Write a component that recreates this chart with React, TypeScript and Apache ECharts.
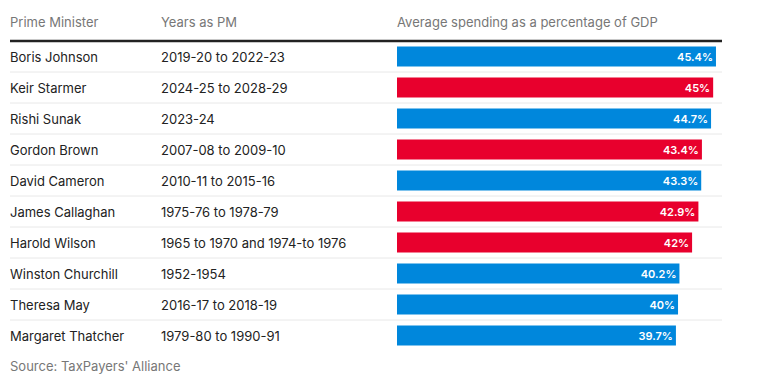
import React, { useEffect, useRef } from "react";
import * as echarts from "echarts";

const ministers = [
  "Boris Johnson",
  "Keir Starmer",
  "Rishi Sunak",
  "Gordon Brown",
  "David Cameron",
  "James Callaghan",
  "Harold Wilson",
  "Winston Churchill",
  "Theresa May",
  "Margaret Thatcher",
];
const years = [
  "2019-20 to 2022-23",
  "2024-25 to 2028-29",
  "2023-24",
  "2007-08 to 2009-10",
  "2010-11 to 2015-16",
  "1975-76 to 1978-79",
  "1965 to 1970 and 1974-to 1976",
  "1952-1954",
  "2016-17 to 2018-19",
  "1979-80 to 1990-91",
];
const spending = [45.4, 45, 44.7, 43.4, 43.3, 42.9, 42, 40.2, 40, 39.7];
const party = ["Con", "Lab", "Con", "Lab", "Con", "Lab", "Lab", "Con", "Con", "Con"];

const partyColors: Record<string, string> = { Con: "#0087DC", Lab: "#E8002D" };

const W = 762;
const H = 382;
const TOP = 41;
const ROW_H = 31;
const GRID_LEFT = 397;
const GRID_RIGHT_X = 723;
const FONT = "Inter, 'Noto Sans', sans-serif";

export default function App() {
  const ref = useRef<HTMLDivElement>(null);
  useEffect(() => {
    if (!ref.current) return;
    const chart = echarts.init(ref.current, undefined, { renderer: "svg" });
    const n = ministers.length;
    const separators = [];
    for (let i = 1; i < n; i++) {
      separators.push({
        type: "line",
        shape: { x1: 10, y1: TOP + i * ROW_H, x2: 722, y2: TOP + i * ROW_H },
        style: { stroke: "#e8e8e8", lineWidth: 1 },
        z: 0,
      });
    }
    chart.setOption({
      animation: false,
      backgroundColor: "#ffffff",
      grid: {
        left: GRID_LEFT,
        right: W - GRID_RIGHT_X,
        top: TOP,
        height: n * ROW_H,
      },
      xAxis: {
        type: "value",
        min: 0,
        max: 46.4,
        show: false,
      },
      yAxis: [
        {
          type: "category",
          data: ministers,
          inverse: true,
          position: "left",
          axisLine: { show: false },
          axisTick: { show: false },
          splitLine: { show: false },
          axisLabel: {
            align: "left",
            margin: GRID_LEFT - 10,
            color: "#222222",
            fontSize: 13,
            fontFamily: FONT,
          },
        },
        {
          type: "category",
          data: years,
          inverse: true,
          position: "left",
          axisLine: { show: false },
          axisTick: { show: false },
          splitLine: { show: false },
          axisLabel: {
            align: "left",
            margin: GRID_LEFT - 161,
            color: "#222222",
            fontSize: 13,
            fontFamily: FONT,
          },
        },
      ],
      series: [
        {
          type: "bar",
          yAxisIndex: 0,
          barWidth: 20,
          data: spending.map((v, i) => ({
            value: v,
            itemStyle: { color: partyColors[party[i]] },
          })),
          label: {
            show: true,
            position: "insideRight",
            distance: 3,
            color: "#ffffff",
            fontSize: 11,
            fontWeight: 600,
            fontFamily: FONT,
            formatter: (p: any) => `${p.value}%`,
          },
        },
      ],
      graphic: [
        ...separators,
        {
          type: "line",
          shape: { x1: 10, y1: TOP, x2: 722, y2: TOP },
          style: { stroke: "#222222", lineWidth: 2.5 },
          z: 10,
        },
        {
          type: "text",
          x: 10,
          y: 22,
          style: { text: "Prime Minister", fill: "#777777", font: `13px ${FONT}`, verticalAlign: "middle" },
        },
        {
          type: "text",
          x: 161,
          y: 22,
          style: { text: "Years as PM", fill: "#777777", font: `13px ${FONT}`, verticalAlign: "middle" },
        },
        {
          type: "text",
          x: GRID_LEFT,
          y: 22,
          style: {
            text: "Average spending as a percentage of GDP",
            fill: "#777777",
            font: `13px ${FONT}`,
            verticalAlign: "middle",
          },
        },
        {
          type: "text",
          x: 10,
          y: 366,
          style: { text: "Source: TaxPayers' Alliance", fill: "#777777", font: `13px ${FONT}`, verticalAlign: "middle" },
        },
      ],
    });
    return () => chart.dispose();
  }, []);
  return <div ref={ref} style={{ width: W, height: H, position: "absolute", left: 0, top: 0 }} />;
}
